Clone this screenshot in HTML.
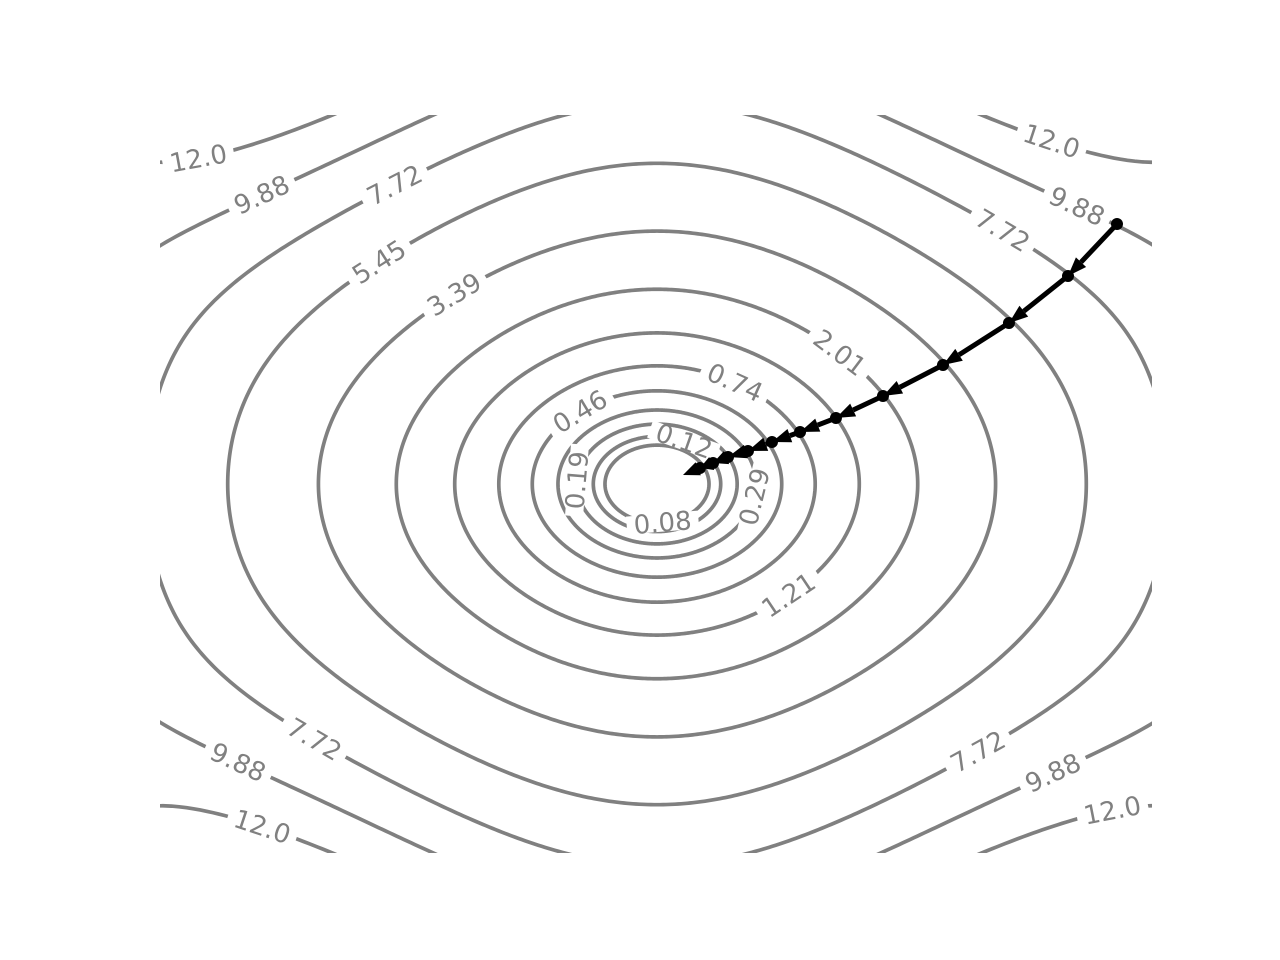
<!DOCTYPE html>
<html><head><meta charset="utf-8"><style>
html,body{margin:0;padding:0;background:#fff;width:1280px;height:960px;overflow:hidden}
svg{display:block}
text{font-family:"DejaVu Sans","Liberation Sans",sans-serif}
</style></head><body>
<svg id="chart" width="1280" height="960" viewBox="0 0 1280 960" xmlns="http://www.w3.org/2000/svg">
<defs><clipPath id="axclip"><rect x="160" y="115" width="992" height="738"/></clipPath></defs>
<rect width="1280" height="960" fill="#fff"/>
<g id="contours" clip-path="url(#axclip)"></g>
<g id="labels"></g>
<g id="path"></g>
</svg>
<script>
const levels = [0.08,0.12,0.19,0.29,0.46,0.74,1.21,2.01,3.39,5.45,7.72,9.88,12.0];
const levelText = ["0.08","0.12","0.19","0.29","0.46","0.74","1.21","2.01","3.39","5.45","7.72","9.88","12.0"];
const coefA = 0.291, coefB = 0.451, coefC = 0.0189, coefR = -0.000856;
const labelLevelIdx = [12,11,10,9,8,7,6,5,4,3,2,1,0,12,11,10,10,11,12,10,11,12];
const labelX = [-4.65,-4.03,-2.67,-2.77,-2.02,1.85,1.32,0.80,-0.79,0.99,-0.81,0.28,0.05,4.11,4.26,3.46,-3.42,-4.23,-4.07,3.21,3.99,4.62];
const labelY = [3.55,3.17,3.27,2.38,2.03,1.43,-1.20,1.12,0.80,-0.14,0.04,0.48,-0.37,3.84,3.03,2.73,-2.74,-3.02,-3.80,-2.88,-3.13,-3.56];
const pathX = [4.637,4.143,3.548,2.883,2.278,1.804,1.442,1.159,0.917,0.716,0.565,0.433,0.262];
const pathY = [2.818,2.255,1.745,1.290,0.954,0.715,0.564,0.455,0.358,0.293,0.228,0.173,0.098];

const NS = "http://www.w3.org/2000/svg";
const sx = x => 657 + x * 99.2;
const sy = y => 484 - y * 92.25;
function f(x, y) {
  const x2 = x * x, y2 = y * y;
  return coefA * x2 + coefB * y2 + coefC * x2 * y2 + coefR * x2 * x2 * y2;
}
function radius(L, c, s) {
  let lo = 0, step = 0.02, r = step;
  while (r < 14 && f(r * c, r * s) < L) { lo = r; r += step; }
  let hi = r;
  for (let k = 0; k < 30; k++) {
    const m = (lo + hi) / 2;
    if (f(m * c, m * s) < L) lo = m; else hi = m;
  }
  return (lo + hi) / 2;
}
const cg = document.getElementById('contours');
levels.forEach((L, i) => {
  let d = "";
  for (let k = 0; k <= 720; k++) {
    const th = k / 720 * 2 * Math.PI, c = Math.cos(th), s = Math.sin(th);
    const r = radius(L, c, s);
    d += (k ? "L" : "M") + sx(r * c).toFixed(2) + "," + sy(r * s).toFixed(2);
  }
  const p = document.createElementNS(NS, 'path');
  p.setAttribute('d', d + "Z");
  p.setAttribute('fill', 'none');
  p.setAttribute('stroke', '#808080');
  p.setAttribute('stroke-width', '3.7');
  
  
  cg.appendChild(p);
});
const lg = document.getElementById('labels');
labelX.forEach((lx, i) => {
  const L = levels[labelLevelIdx[i]];
  const th = Math.atan2(labelY[i], lx), c = Math.cos(th), s = Math.sin(th);
  const r = radius(L, c, s);
  const x = r * c, y = r * s, h = 1e-4;
  const gxd = (f(x + h, y) - f(x - h, y)) / (2 * h);
  const gyd = (f(x, y + h) - f(x, y - h)) / (2 * h);
  const gx = gxd / 99.2, gy = -gyd / 92.25;
  let ang = Math.atan2(gy, gx) * 180 / Math.PI + 90;
  while (ang > 90) ang -= 180;
  while (ang <= -90) ang += 180;
  const px = sx(x), py = sy(y);
  const g = document.createElementNS(NS, 'g');
  g.setAttribute('transform', `translate(${px.toFixed(1)},${py.toFixed(1)}) rotate(${ang.toFixed(1)})`);
  
  
  const rc = document.createElementNS(NS, 'rect');
  rc.setAttribute('x', -36); rc.setAttribute('y', -9);
  rc.setAttribute('width', 72); rc.setAttribute('height', 18);
  rc.setAttribute('fill', '#fff');
  
  
  const t = document.createElementNS(NS, 'text');
  t.setAttribute('x', 0); t.setAttribute('y', 9);
  t.setAttribute('text-anchor', 'middle');
  t.setAttribute('font-size', '26');
  t.setAttribute('fill', '#808080');
  
  
  t.textContent = levelText[labelLevelIdx[i]];
  g.appendChild(rc); g.appendChild(t);
  lg.appendChild(g);
});
const pg = document.getElementById('path');
for (let i = 0; i < pathX.length - 1; i++) {
  const x1 = sx(pathX[i]), y1 = sy(pathY[i]), x2 = sx(pathX[i + 1]), y2 = sy(pathY[i + 1]);
  const dx = x2 - x1, dy = y2 - y1, len = Math.hypot(dx, dy), ux = dx / len, uy = dy / len;
  const hl = Math.min(19, len * 0.9), hw = 7;
  const bx = x2 - ux * hl, by = y2 - uy * hl;
  const ln = document.createElementNS(NS, 'line');
  ln.setAttribute('x1', x1); ln.setAttribute('y1', y1);
  ln.setAttribute('x2', bx); ln.setAttribute('y2', by);
  ln.setAttribute('stroke', '#000'); ln.setAttribute('stroke-width', '5');
  
  
  pg.appendChild(ln);
  const hd = document.createElementNS(NS, 'polygon');
  hd.setAttribute('points', `${x2},${y2} ${bx - uy * hw},${by + ux * hw} ${bx + uy * hw},${by - ux * hw}`);
  hd.setAttribute('fill', '#000');
  
  
  pg.appendChild(hd);
}
for (let i = 0; i < pathX.length - 1; i++) {
  const ci = document.createElementNS(NS, 'circle');
  ci.setAttribute('cx', sx(pathX[i])); ci.setAttribute('cy', sy(pathY[i]));
  ci.setAttribute('r', 6); ci.setAttribute('fill', '#000');
  
  
  pg.appendChild(ci);
}
</script>
</body></html>
